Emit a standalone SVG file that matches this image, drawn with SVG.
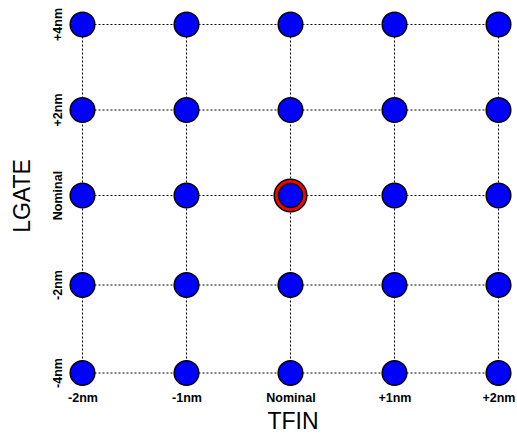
<svg xmlns="http://www.w3.org/2000/svg" width="517" height="435" viewBox="0 0 517 435">
<style>
.grid{stroke:#000;stroke-width:1;stroke-dasharray:2,2;fill:none}
.pt{fill:#0000ff;stroke:#000;stroke-width:1.5}
.ring{fill:#ff0000;stroke:#000;stroke-width:1.5}
.tick{font-family:"Liberation Sans",Arial,sans-serif;font-weight:bold;font-size:12.5px;fill:#000}
.ax{font-family:"Liberation Sans",Arial,sans-serif;font-size:23px;fill:#000}
</style>
<rect width="517" height="435" fill="#fff"/>
<g id="connectors">
<line class="grid" x1="82.5" y1="24.5" x2="498.5" y2="24.5"/>
<line class="grid" x1="82.5" y1="110" x2="498.5" y2="110"/>
<line class="grid" x1="82.5" y1="195.5" x2="498.5" y2="195.5"/>
<line class="grid" x1="82.5" y1="285" x2="498.5" y2="285"/>
<line class="grid" x1="82.5" y1="373" x2="498.5" y2="373"/>
<line class="grid" x1="82.5" y1="24.5" x2="82.5" y2="373"/>
<line class="grid" x1="186.5" y1="24.5" x2="186.5" y2="373"/>
<line class="grid" x1="290.5" y1="24.5" x2="290.5" y2="373"/>
<line class="grid" x1="394.5" y1="24.5" x2="394.5" y2="373"/>
<line class="grid" x1="498.5" y1="24.5" x2="498.5" y2="373"/>
</g>
<g id="nodes">
<g id="r1"><circle class="pt" cx="82.5" cy="24.5" r="12.3"/><circle class="pt" cx="186.5" cy="24.5" r="12.3"/><circle class="pt" cx="290.5" cy="24.5" r="12.3"/><circle class="pt" cx="394.5" cy="24.5" r="12.3"/><circle class="pt" cx="498.5" cy="24.5" r="12.3"/></g>
<g id="r2"><circle class="pt" cx="82.5" cy="110" r="12.3"/><circle class="pt" cx="186.5" cy="110" r="12.3"/><circle class="pt" cx="290.5" cy="110" r="12.3"/><circle class="pt" cx="394.5" cy="110" r="12.3"/><circle class="pt" cx="498.5" cy="110" r="12.3"/></g>
<g id="r3"><circle class="pt" cx="82.5" cy="195.5" r="12.3"/><circle class="pt" cx="186.5" cy="195.5" r="12.3"/><circle class="pt" cx="394.5" cy="195.5" r="12.3"/><circle class="pt" cx="498.5" cy="195.5" r="12.3"/></g>
<g id="nominal"><circle class="ring" cx="290.5" cy="195.5" r="16.3"/><circle class="pt" cx="290.5" cy="195.5" r="12"/></g>
<g id="r4"><circle class="pt" cx="82.5" cy="285" r="12.3"/><circle class="pt" cx="186.5" cy="285" r="12.3"/><circle class="pt" cx="290.5" cy="285" r="12.3"/><circle class="pt" cx="394.5" cy="285" r="12.3"/><circle class="pt" cx="498.5" cy="285" r="12.3"/></g>
<g id="r5"><circle class="pt" cx="82.5" cy="373" r="12.3"/><circle class="pt" cx="186.5" cy="373" r="12.3"/><circle class="pt" cx="290.5" cy="373" r="12.3"/><circle class="pt" cx="394.5" cy="373" r="12.3"/><circle class="pt" cx="498.5" cy="373" r="12.3"/></g>
</g>
<g id="xlabels" text-anchor="middle">
<text class="tick" x="83" y="402">-2nm</text>
<text class="tick" x="187" y="402">-1nm</text>
<text class="tick" x="291" y="402">Nominal</text>
<text class="tick" x="395" y="402">+1nm</text>
<text class="tick" x="499" y="402">+2nm</text>
<text class="ax" x="293" y="429">TFIN</text>
</g>
<g id="ylabels" text-anchor="middle">
<text class="tick" transform="translate(62,24.5) rotate(-90)">+4nm</text>
<text class="tick" transform="translate(62,110) rotate(-90)">+2nm</text>
<text class="tick" transform="translate(62,195.5) rotate(-90)">Nominal</text>
<text class="tick" transform="translate(62,285) rotate(-90)">-2nm</text>
<text class="tick" transform="translate(62,373) rotate(-90)">-4nm</text>
<text class="ax" transform="translate(29.5,196) rotate(-90)">LGATE</text>
</g>
</svg>
